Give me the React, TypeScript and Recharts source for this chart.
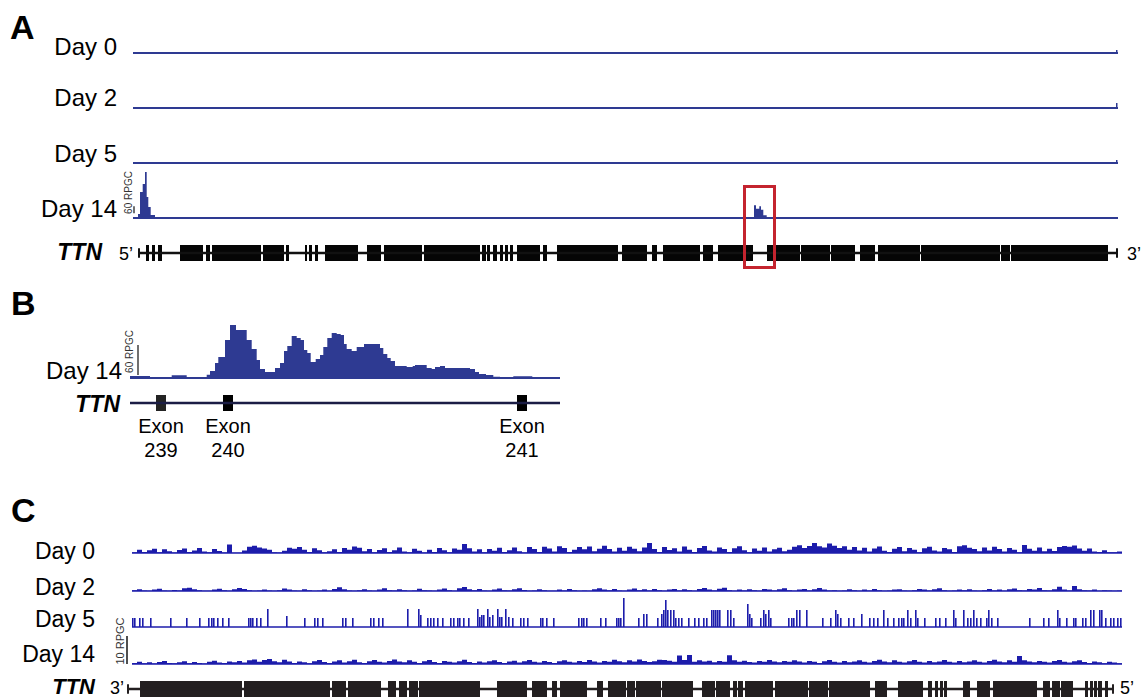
import React from 'react';
import { AreaChart, Area, XAxis, YAxis, ReferenceLine, ReferenceArea, ComposedChart, Line } from 'recharts';

// ---------------- DATA ----------------
// Panel A: signal (RPGC) along TTN locus, positions in track bins (0..985)
const A_LEN = 985;
const A_DAY0: [number, number][] = [[983, 26]];
const A_DAY2: [number, number][] = [[983, 43]];
const A_DAY5: [number, number][] = [[983, 26]];
// step points [position, RPGC]
const A_DAY14: [number, number][] = [
  [5, 34], [7, 224], [9.7, 292], [12, 396], [13.7, 180], [15.3, 95], [17.7, 26], [22, 0],
  [621, 109], [623, 80], [626.3, 100], [628, 71], [630.3, 23], [633.7, 0],
];
const A_EXONS: [number, number][] = [
  [13, 16], [19, 22], [25, 29], [47, 70], [73, 77], [79, 128], [130, 151], [153, 156], [172, 174], [176, 179],
  [182, 185], [192, 225], [234, 248], [251, 289], [291, 347], [349, 353], [354, 357], [360, 364], [367, 370],
  [372, 375], [377, 380], [384, 407], [410, 414], [424, 485], [489, 514], [519, 524], [530, 567], [570, 580],
  [585, 610], [612, 620], [634, 667], [668, 697], [698, 722], [727, 742], [745, 787], [788, 867], [868, 877], [878, 975],
];
const A_INTRON: [number, number] = [6, 984];
const A_HIGHLIGHT: [number, number] = [611, 642];

// Panel B: zoomed Day 14 profile (RPGC), positions 0..430
const B_LEN = 430;
const B_DAY14: [number, number][] = [
  [0, 4], [20, 1.4], [41.7, 5.4], [56.7, 2], [76.7, 6.6], [80, 14], [85, 30], [88.3, 42], [95, 76], [100, 106],
  [106, 96], [116.7, 76], [121.7, 58], [126.7, 36], [130, 18], [135, 12], [145, 20], [150, 30], [154, 54],
  [157.3, 64], [161.7, 84], [166.7, 80], [170.7, 76], [174, 56], [177.3, 50], [180.7, 32], [185.7, 38],
  [190, 46], [193.3, 62], [197.3, 80], [201.7, 90], [206.7, 88], [210.7, 86], [214, 68], [216.7, 58],
  [221.7, 54], [226.7, 62], [234, 68], [250, 60], [253.3, 48], [257.3, 40], [260.7, 34], [265, 24],
  [276.7, 22], [282.7, 24], [285, 26], [296.7, 20], [301.7, 18], [305, 22], [310, 24], [315, 20],
  [323.3, 20], [340, 18], [345, 12], [349, 8], [356, 6], [363.3, 2.6], [370, 2], [383.3, 3.4],
  [391.7, 3.4], [402.3, 1.4], [430, 1.4],
];
const B_EXONS: [number, number][] = [[26, 36], [93, 103], [387, 397]];
const B_EXON_LABELS = ['239', '240', '241'];

// Panel C: signal (RPGC) in 5-bin steps, positions 0..990
const C_LEN = 990;
const C_BIN = 5;
const C_DAY0 = [
  0.3, 1.2, 0.4, 1.0, 1.5, 0.3, 1.3, 0.6, 0.2, 1.1, 1.6, 0.4, 0.9, 1.8, 0.5, 0.3, 1.4, 0.7, 0.2, 3.0,
  0.1, 0.1, 0.9, 2.2, 2.6, 2.0, 1.6, 1.2, 0.3, 0.2, 0.8, 1.9, 1.5, 2.1, 1.2, 0.4, 1.7, 1.0, 0.3, 0.6,
  1.3, 0.4, 1.8, 1.2, 2.3, 1.9, 0.6, 1.4, 0.3, 1.1, 1.7, 0.4, 1.0, 2.0, 0.5, 0.3, 1.5, 0.8, 0.2, 1.2,
  0.4, 1.8, 1.0, 0.3, 1.6, 1.2, 3.2, 1.7, 0.5, 1.3, 0.3, 1.4, 0.8, 1.9, 0.4, 1.0, 2.0, 0.6, 0.2, 2.1,
  1.4, 0.4, 2.2, 1.6, 0.5, 2.4, 1.8, 0.4, 1.2, 2.1, 1.3, 2.3, 0.6, 1.5, 2.6, 1.4, 0.5, 1.9, 0.8, 2.2,
  1.5, 0.6, 2.0, 3.6, 1.4, 0.4, 2.1, 1.1, 1.7, 0.5, 2.3, 1.2, 0.4, 1.8, 2.5, 0.9, 0.5, 2.0, 1.4, 0.4,
  1.7, 2.4, 1.0, 0.3, 1.6, 0.8, 2.0, 0.5, 1.3, 1.9, 0.6, 1.2, 2.2, 2.8, 1.8, 2.5, 3.6, 2.4, 2.0, 3.4,
  2.6, 1.8, 2.4, 1.2, 2.1, 0.9, 1.9, 0.5, 1.6, 2.3, 0.8, 0.4, 1.5, 2.1, 0.6, 1.8, 1.2, 0.3, 1.7, 2.2,
  0.9, 0.5, 1.8, 1.3, 0.4, 2.4, 2.8, 1.9, 1.4, 0.6, 2.0, 0.9, 2.2, 1.4, 0.5, 1.8, 1.2, 0.3, 2.9, 1.5,
  0.8, 2.0, 0.6, 1.5, 0.7, 2.1, 2.5, 2.2, 2.7, 1.6, 0.8, 1.6, 0.5, 0.4, 1.0, 0.3, 0.3, 0.5,
];
const C_DAY2 = [
  0.3, 0.6, 0.2, 0.1, 0.5, 0.8, 0.2, 0.1, 0.4, 0.2, 1.0, 1.2, 0.6, 0.3, 0.1, 0.1, 0.5, 0.8, 0.3, 0.1,
  0.6, 1.1, 0.7, 0.3, 0.1, 0.2, 0.5, 0.2, 0.1, 0.3, 0.9, 0.5, 0.2, 0.1, 0.6, 0.3, 0.1, 0.2, 0.5, 0.1,
  0.7, 1.3, 0.6, 0.2, 0.1, 0.3, 0.6, 0.2, 0.1, 0.5, 1.0, 0.3, 0.2, 0.6, 0.3, 0.1, 0.2, 0.8, 0.3, 0.2,
  0.1, 0.5, 0.9, 0.3, 0.1, 1.0, 1.4, 0.6, 0.3, 0.7, 0.2, 0.1, 0.5, 0.9, 0.3, 0.2, 0.6, 1.0, 0.4, 0.1,
  0.2, 0.6, 0.3, 0.1, 0.1, 0.5, 0.2, 0.7, 0.3, 0.1, 0.2, 0.1, 0.6, 1.0, 0.5, 0.3, 0.7, 0.2, 0.1, 0.5,
  0.9, 0.3, 0.6, 0.2, 0.7, 0.3, 0.1, 0.5, 0.7, 0.2, 0.6, 0.3, 0.1, 0.7, 1.1, 0.5, 0.2, 0.8, 1.2, 0.3,
  0.1, 0.5, 0.2, 0.6, 0.3, 0.1, 0.7, 0.5, 0.2, 0.6, 1.0, 0.3, 0.1, 0.5, 0.7, 0.2, 0.6, 1.1, 0.5, 0.2,
  0.3, 0.1, 0.2, 0.6, 0.3, 0.1, 0.5, 0.2, 0.7, 0.3, 0.1, 0.2, 0.5, 0.6, 0.2, 0.1, 0.3, 0.7, 0.5, 0.2,
  0.6, 1.0, 0.3, 0.1, 0.2, 0.5, 0.3, 0.6, 0.2, 0.1, 0.3, 0.7, 0.2, 0.5, 0.1, 0.6, 0.9, 0.3, 0.2, 0.7,
  0.5, 1.1, 0.3, 0.2, 0.6, 1.5, 0.5, 0.2, 1.8, 0.6, 0.3, 0.2, 0.5, 0.1, 0.3, 0.2, 0.1, 0.2,
];
const C_DAY14 = [
  0.4, 0.8, 0.3, 0.6, 0.2, 0.7, 1.1, 0.4, 0.3, 0.6, 1.0, 0.3, 0.7, 0.4, 0.2, 0.8, 1.2, 0.5, 0.4, 0.9,
  0.6, 1.1, 0.5, 1.3, 1.6, 0.8, 1.4, 1.8, 1.0, 0.6, 1.5, 0.9, 0.4, 0.9, 0.6, 0.3, 1.0, 1.4, 0.7, 0.4,
  0.9, 1.3, 0.5, 1.0, 1.5, 0.6, 0.4, 1.0, 1.4, 0.8, 0.5, 1.1, 1.6, 0.9, 0.6, 1.3, 0.8, 0.4, 1.0, 1.4,
  0.7, 0.4, 1.1, 0.8, 0.5, 1.0, 1.5, 0.7, 0.4, 0.9, 0.5, 1.0, 1.3, 0.7, 0.4, 0.9, 1.2, 0.5, 1.0, 1.4,
  0.8, 0.5, 1.1, 0.7, 0.4, 1.0, 1.3, 0.8, 0.5, 1.1, 0.7, 1.4, 0.9, 0.5, 1.1, 0.8, 1.5, 1.0, 0.6, 1.3,
  0.9, 1.6, 1.1, 0.7, 1.0, 1.5, 1.4, 1.2, 0.8, 3.0, 1.4, 3.2, 0.8, 1.3, 0.9, 1.2, 0.6, 1.1, 0.8, 3.1,
  1.3, 0.8, 1.2, 0.7, 0.5, 1.1, 0.8, 1.4, 0.9, 0.6, 1.1, 0.8, 1.3, 0.9, 0.5, 1.1, 0.8, 0.4, 1.0, 1.4,
  0.8, 0.5, 1.1, 0.6, 0.9, 1.3, 0.8, 0.5, 1.1, 1.5, 0.9, 0.6, 1.3, 0.8, 0.5, 1.0, 1.4, 0.8, 0.5, 1.1,
  0.6, 0.9, 1.4, 0.8, 0.5, 1.1, 0.6, 0.9, 1.3, 0.8, 0.5, 1.1, 1.5, 0.9, 0.6, 1.3, 0.8, 2.9, 1.3, 0.9,
  0.6, 1.1, 0.8, 0.5, 1.1, 1.4, 0.8, 0.5, 1.0, 1.3, 0.7, 0.4, 0.9, 0.6, 0.3, 0.8, 0.5, 0.3,
];
// Day 5: isolated bars [position, RPGC]
const C_DAY5: [number, number][] = [
  [0, 3.2], [2, 3.2], [7, 3.2], [10, 3.2], [18, 3.2], [38, 3.2], [54, 3.2], [67, 3.2], [76, 3.2], [79, 3.2],
  [81, 3.2], [85, 3.2], [90, 3.2], [96, 3.2], [116, 3.2], [118, 3.2], [120, 3.2], [124, 3.2], [128, 3.2],
  [135, 6.4], [154, 3.9], [172, 3.2], [182, 3.2], [185, 3.2], [190, 3.2], [210, 3.2], [213, 3.2], [220, 3.2],
  [238, 3.2], [241, 3.2], [246, 3.2], [250, 3.2], [275, 6.4], [286, 6.4], [288, 4.3], [295, 3.2], [298, 3.2],
  [301, 3.2], [305, 3.2], [310, 3.2], [318, 3.2], [321, 3.2], [325, 3.2], [327, 3.2], [331, 3.2], [336, 3.2],
  [345, 6.4], [347, 3.6], [349, 4.3], [351, 4.3], [355, 6.4], [357, 3.6], [360, 4.3], [365, 6.4], [367, 3.6],
  [369, 3.6], [373, 6.4], [376, 3.6], [380, 3.2], [388, 3.2], [391, 3.2], [395, 3.2], [408, 3.2], [410, 3.2],
  [414, 3.2], [421, 3.2], [446, 3.2], [449, 3.2], [451, 3.2], [454, 3.2], [468, 3.2], [473, 3.2], [484, 3.2],
  [486, 3.2], [488, 3.2], [491, 10.4], [506, 3.2], [511, 4.6], [514, 4.6], [525, 3.2], [529, 4.6], [531, 6.1],
  [533, 9.6], [535, 6.1], [538, 6.1], [541, 6.1], [543, 3.2], [546, 3.2], [549, 3.2], [556, 3.2], [562, 3.2],
  [566, 3.2], [571, 3.2], [574, 3.2], [579, 6.1], [581, 6.1], [583, 6.1], [585, 6.1], [587, 6.1], [595, 6.1],
  [598, 6.1], [601, 3.2], [615, 8.2], [617, 4.6], [619, 3.2], [628, 3.2], [631, 6.1], [633, 4.6], [636, 6.1],
  [638, 3.2], [656, 3.2], [659, 3.2], [661, 3.2], [664, 6.1], [667, 6.1], [674, 6.1], [690, 3.2], [698, 3.2],
  [703, 6.1], [705, 4.6], [708, 3.2], [716, 3.2], [721, 3.2], [729, 4.6], [737, 3.2], [741, 3.2], [745, 3.2],
  [751, 6.1], [755, 3.2], [761, 3.2], [766, 3.2], [769, 3.2], [771, 3.2], [775, 6.1], [778, 3.2], [783, 6.1],
  [785, 3.2], [792, 3.2], [803, 3.2], [807, 3.2], [813, 3.2], [821, 6.1], [823, 3.2], [831, 6.1], [835, 3.2],
  [838, 3.2], [841, 6.1], [844, 3.2], [848, 3.2], [854, 3.2], [856, 6.1], [859, 3.2], [865, 3.2], [897, 3.2],
  [911, 3.2], [916, 3.2], [925, 6.1], [927, 3.2], [934, 3.2], [941, 3.2], [943, 3.2], [950, 3.2], [953, 3.2],
  [958, 6.1], [961, 6.1], [967, 6.1], [969, 6.1], [973, 3.2], [978, 3.2], [981, 3.2], [985, 3.2], [988, 3.2],
];
const C_EXONS: [number, number][] = [
  [8, 110], [112, 198], [200, 214], [216, 249], [256, 264], [267, 275], [277, 286], [287, 348], [365, 395],
  [400, 415], [420, 425], [428, 455], [465, 471], [476, 494], [495, 503], [504, 529], [530, 561], [570, 583],
  [584, 598], [601, 605], [606, 611], [613, 641], [643, 676], [677, 696], [697, 738], [743, 755], [766, 791],
  [796, 800], [803, 806], [808, 811], [812, 815], [831, 838], [845, 858], [861, 905], [911, 918], [920, 928],
  [929, 941], [953, 956], [958, 961], [962, 965], [966, 970], [973, 976],
];
const C_INTRON: [number, number] = [-4, 981];

const DAY_LABELS_A = ['Day 0', 'Day 2', 'Day 5', 'Day 14'];
const DAY_LABELS_C = ['Day 0', 'Day 2', 'Day 5', 'Day 14'];

// ---------------- STYLE ----------------
const FONT = "'Liberation Sans', Arial, Helvetica, sans-serif";
const NAVY = '#2e3a92';
const CBLUE = '#1c1cab';

type Pt = { x: number; v: number };

function fromBars(bars: [number, number][], w: number, len: number): Pt[] {
  const pts: Pt[] = [{ x: 0, v: 0 }];
  bars.forEach(([p, v], i) => {
    pts.push({ x: p, v });
    const next = bars[i + 1];
    if (!next || next[0] > p + w) pts.push({ x: p + w, v: 0 });
  });
  pts.push({ x: len, v: 0 });
  return pts;
}
function fromSteps(steps: [number, number][], len: number): Pt[] {
  const pts: Pt[] = [];
  if (steps[0][0] > 0) pts.push({ x: 0, v: 0 });
  steps.forEach(([x, v]) => pts.push({ x, v }));
  if (steps[steps.length - 1][0] < len) pts.push({ x: len, v: steps[steps.length - 1][1] });
  return pts;
}
function fromBins(vals: number[], bin: number): Pt[] {
  const pts = vals.map((v, i) => ({ x: i * bin, v }));
  pts.push({ x: vals.length * bin, v: vals[vals.length - 1] });
  return pts;
}

type TrackProps = {
  left: number; baseline: number; width: number; height: number; len: number; maxV: number;
  data: Pt[]; color: string; lineWidth: number; scale?: { x: number; y0: number; y1: number };
};
function Track({ left, baseline, width, height, len, maxV, data, color, lineWidth, scale }: TrackProps) {
  const pad = 3;
  return (
    <div style={{ position: 'absolute', left, top: baseline - height, width, height: height + pad }}>
      <AreaChart width={width} height={height + pad} data={data} margin={{ top: 0, right: 0, bottom: pad, left: 0 }}>
        <XAxis type="number" dataKey="x" domain={[0, len]} hide allowDataOverflow />
        <YAxis type="number" domain={[0, maxV]} hide allowDataOverflow />
        <Area type="stepAfter" dataKey="v" stroke="none" fill={color} fillOpacity={1}
          isAnimationActive={false} dot={false} activeDot={false} />
        <ReferenceLine y={0} stroke={color} strokeWidth={lineWidth} />
        {scale && (
          <ReferenceLine segment={[{ x: scale.x, y: scale.y0 }, { x: scale.x, y: scale.y1 }]}
            stroke="#333" strokeWidth={1.4} />
        )}
      </AreaChart>
    </div>
  );
}

type GeneProps = {
  left: number; top: number; width: number; height: number; domain: [number, number];
  intron: [number, number]; exons: [number, number][]; color: string; lineColor: string; lineWidth: number;
  exonColors?: string[]; ticks?: boolean;
};
function Gene({ left, top, width, height, domain, intron, exons, color, lineColor, lineWidth, exonColors, ticks }: GeneProps) {
  const data = [{ x: intron[0], y: 0.5 }, { x: intron[1], y: 0.5 }];
  return (
    <div style={{ position: 'absolute', left, top, width, height }}>
      <ComposedChart width={width} height={height} data={data} margin={{ top: 0, right: 0, bottom: 0, left: 0 }}>
        <XAxis type="number" dataKey="x" domain={domain} hide allowDataOverflow />
        <YAxis type="number" domain={[0, 1]} hide allowDataOverflow />
        <Line dataKey="y" stroke={lineColor} strokeWidth={lineWidth} dot={false} activeDot={false} isAnimationActive={false} />
        {exons.map(([a, b], i) => (
          <ReferenceArea key={i} x1={a} x2={b} y1={0} y2={1} fill={exonColors ? exonColors[i] : color}
            fillOpacity={1} stroke="none" ifOverflow="visible" />
        ))}
        {ticks && (
          <ReferenceLine segment={[{ x: intron[0], y: 0.2 }, { x: intron[0], y: 0.8 }]} stroke={lineColor} strokeWidth={2} />
        )}
        {ticks && (
          <ReferenceLine segment={[{ x: intron[1], y: 0.2 }, { x: intron[1], y: 0.8 }]} stroke={lineColor} strokeWidth={2} />
        )}
      </ComposedChart>
    </div>
  );
}

export default function App() {
  // Panel A geometry
  const aLeft = 133, aWidth = 985, aH = 50, aMax = 430;
  const aBase = [53, 108, 163, 218];
  const aSeries = [fromBars(A_DAY0, 1.5, A_LEN), fromBars(A_DAY2, 1.5, A_LEN), fromBars(A_DAY5, 1.5, A_LEN), fromSteps(A_DAY14, A_LEN)];
  // Panel B geometry
  const bLeft = 130, bWidth = 430, bH = 60, bMax = 120;
  // Panel C geometry
  const cLeft = 132, cWidth = 990, cH = 36, cPxPerRpgc = 2.8;
  const cMax = cH / cPxPerRpgc;
  const cBase = [553, 591, 627, 664];
  const cSeries = [fromBins(C_DAY0, C_BIN), fromBins(C_DAY2, C_BIN), fromBars(C_DAY5, 1.6, C_LEN), fromBins(C_DAY14, C_BIN)];

  const bExonX = B_EXONS.map(([a, b]) => bLeft + ((a + b) / 2) * (bWidth / B_LEN));
  const hl = A_HIGHLIGHT.map((p) => aLeft + p * (aWidth / A_LEN));

  return (
    <div style={{ position: 'absolute', left: 0, top: 0, width: 1141, height: 698, background: '#fff', overflow: 'hidden', fontFamily: FONT }}>
      {aSeries.map((d, i) => (
        <Track key={'a' + i} left={aLeft} baseline={aBase[i]} width={aWidth} height={aH} len={A_LEN} maxV={aMax}
          data={d} color={NAVY} lineWidth={2.2} scale={i === 3 ? { x: 1, y0: 40, y1: 100 } : undefined} />
      ))}
      <Gene left={aLeft} top={245} width={aWidth} height={16} domain={[0, A_LEN]} intron={A_INTRON} exons={A_EXONS}
        color="#050505" lineColor="#111" lineWidth={2.4} ticks />
      <div style={{ position: 'absolute', left: hl[0] - 1, top: 185, width: hl[1] - hl[0] + 2, height: 84, border: '3px solid #c4242f', boxSizing: 'border-box' }} />

      <Track left={bLeft} baseline={378} width={bWidth} height={bH} len={B_LEN} maxV={bMax}
        data={fromSteps(B_DAY14, B_LEN)} color={NAVY} lineWidth={2.2} scale={{ x: 8, y0: 6, y1: 66 }} />
      <Gene left={bLeft} top={395} width={bWidth} height={16} domain={[0, B_LEN]} intron={[0, B_LEN]} exons={B_EXONS}
        color="#000" lineColor="#1b1d45" lineWidth={2.6} exonColors={['#232323', '#000', '#000']} />

      {cSeries.map((d, i) => (
        <Track key={'c' + i} left={cLeft} baseline={cBase[i]} width={cWidth} height={cH} len={C_LEN} maxV={cMax}
          data={d} color={CBLUE} lineWidth={1.6} />
      ))}
      <Gene left={cLeft - 12} top={681} width={cWidth + 12} height={16} domain={[-12, C_LEN]} intron={C_INTRON} exons={C_EXONS}
        color="#231f20" lineColor="#231f20" lineWidth={2.4} ticks />

      <svg width={1141} height={698} style={{ position: 'absolute', left: 0, top: 0, pointerEvents: 'none' }}>
        <g fontFamily={FONT} fill="#000">
          <text x={10} y={39} fontSize={34} fontWeight="bold">A</text>
          {DAY_LABELS_A.map((t, i) => (
            <text key={t} x={117} y={[55, 106, 161.7, 216.5][i]} fontSize={24} textAnchor="end">{t}</text>
          ))}
          <text x={102} y={260} fontSize={23} fontWeight="bold" fontStyle="italic" textAnchor="end">TTN</text>
          <text x={119} y={260} fontSize={18}>5’</text>
          <text x={1127} y={260} fontSize={18}>3’</text>
          <text x={132} y={192.5} fontSize={10} fill="#333" textAnchor="middle" transform="rotate(-90 132 192.5)">60 RPGC</text>

          <text x={11} y={315} fontSize={34} fontWeight="bold">B</text>
          <text x={122} y={379} fontSize={24} textAnchor="end">Day 14</text>
          <text x={120} y={411.5} fontSize={23} fontWeight="bold" fontStyle="italic" textAnchor="end">TTN</text>
          <text x={133} y={351.5} fontSize={10} fill="#333" textAnchor="middle" transform="rotate(-90 133 351.5)">60 RPGC</text>
          {B_EXON_LABELS.map((t, i) => (
            <g key={t}>
              <text x={bExonX[i]} y={432.5} fontSize={20} textAnchor="middle">Exon</text>
              <text x={bExonX[i]} y={456.5} fontSize={20} textAnchor="middle">{t}</text>
            </g>
          ))}

          <text x={11} y={522} fontSize={34} fontWeight="bold">C</text>
          {DAY_LABELS_C.map((t, i) => (
            <text key={'c' + t} x={95} y={[559, 595, 626.7, 661.7][i]} fontSize={23} textAnchor="end">{t}</text>
          ))}
          <text x={95} y={694} fontSize={22} fontWeight="bold" fontStyle="italic" textAnchor="end">TTN</text>
          <text x={110} y={694} fontSize={18}>3’</text>
          <text x={1120} y={694} fontSize={18}>5’</text>
          <text x={124} y={641} fontSize={11} fill="#333" textAnchor="middle" transform="rotate(-90 124 641)">10 RPGC</text>
          <line x1={127} x2={127} y1={664 - 10 * cPxPerRpgc} y2={664} stroke="#222" strokeWidth={1.6} />
        </g>
      </svg>
    </div>
  );
}
